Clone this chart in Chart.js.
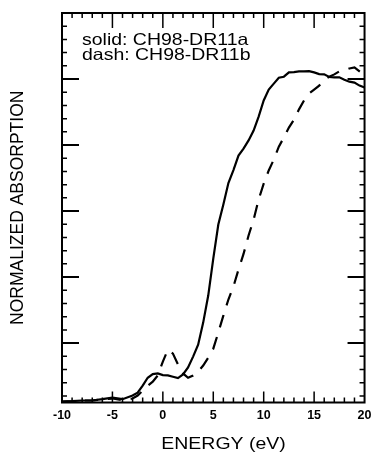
<!DOCTYPE html>
<html><head><meta charset="utf-8">
<style>html,body{margin:0;padding:0;background:#fff}#wrap{width:377px;height:452px;position:relative}</style>
<script src="https://cdn.jsdelivr.net/npm/chart.js@4/dist/chart.umd.min.js"></script>
</head><body>
<div id="wrap"><canvas id="c" width="377" height="452"></canvas></div>
<script>
// Energy grid (eV)
const energy = [-10,-9,-8,-7,-6,-5,-4,-3,-2.5,-2,-1.5,-1,-0.5,0,0.5,1,1.5,2,2.5,3,3.5,4,4.5,5,5.5,6,6.5,7,7.5,8,8.5,9,9.5,10,10.5,11,11.5,12,12.5,13,13.5,14,14.5,15,15.5,16,16.5,17,17.5,18,18.5,19,19.5,20];
// solid: CH98-DR11a
const solidCH98DR11a = [0.023,0.024,0.026,0.026,0.030,0.035,0.030,0.041,0.050,0.071,0.095,0.106,0.108,0.103,0.102,0.098,0.094,0.105,0.126,0.159,0.195,0.262,0.344,0.456,0.559,0.620,0.685,0.724,0.768,0.789,0.814,0.844,0.886,0.935,0.968,0.986,1.004,1.007,1.020,1.021,1.023,1.023,1.024,1.020,1.015,1.014,1.006,1.005,1.005,0.998,0.992,0.989,0.980,0.974];
// dash: CH98-DR11b
const dashCH98DR11b = [0.023,0.024,0.026,0.026,0.029,0.032,0.027,0.032,0.041,0.056,0.071,0.083,0.102,0.144,0.180,0.168,0.135,0.108,0.095,0.102,0.114,0.132,0.156,0.183,0.232,0.283,0.332,0.371,0.423,0.470,0.526,0.574,0.635,0.683,0.723,0.756,0.795,0.823,0.853,0.877,0.908,0.935,0.956,0.968,0.980,0.998,1.007,1.014,1.023,1.026,1.032,1.035,1.023,1.011];
// tick labels / ticks
const xTickLabels = [-10,-5,0,5,10,15,20];
const xMinorStep = 1;
const yMajorTicks = [0.2,0.4,0.6,0.8,1.0];
const yMinorStep = 0.04;
const legendLines = ['solid: CH98-DR11a','dash: CH98-DR11b'];
const xTitle = 'ENERGY (eV)';
const yTitle = 'NORMALIZED ABSORPTION';

const FONT = '"Liberation Sans", Arial, Helvetica, sans-serif';

const framePlugin = {
  id: 'frame',
  afterDraw(chart) {
    const ctx = chart.ctx, a = chart.chartArea;
    const xs = chart.scales.x, ys = chart.scales.y;
    ctx.save();
    ctx.strokeStyle = '#000';
    ctx.lineCap = 'butt';
    // ticks on x (top & bottom)
    ctx.lineWidth = 1.5;
    for (let v = xs.min + xMinorStep; v < xs.max - 1e-9; v += xMinorStep) {
      const px = xs.getPixelForValue(v);
      const major = xTickLabels.some(t => Math.abs(t - v) < 1e-9);
      ctx.beginPath();
      ctx.moveTo(px, a.bottom); ctx.lineTo(px, a.bottom - (major ? 11 : 5));
      ctx.moveTo(px, a.top); ctx.lineTo(px, a.top + (major ? 15 : 5));
      ctx.stroke();
    }
    // ticks on y (left & right)
    for (let v = yMinorStep; v < ys.max - 1e-9; v += yMinorStep) {
      if (v < ys.min) continue;
      const py = ys.getPixelForValue(v);
      const major = yMajorTicks.some(t => Math.abs(t - v) < 1e-6);
      ctx.lineWidth = major ? 2 : 1.5;
      ctx.beginPath();
      ctx.moveTo(a.left, py); ctx.lineTo(a.left + (major ? 17 : 5), py);
      ctx.moveTo(a.right, py); ctx.lineTo(a.right - (major ? 17 : 5), py);
      ctx.stroke();
    }
    // frame
    ctx.lineWidth = 2;
    ctx.strokeRect(a.left, a.top, a.right - a.left, a.bottom - a.top);
    // legend text
    ctx.fillStyle = '#000';
    ctx.font = '16.5px ' + FONT;
    ctx.textAlign = 'left';
    ctx.textBaseline = 'alphabetic';
    legendLines.forEach((t, i) => {
      ctx.save();
      ctx.translate(82, 45 + i * 15);
      ctx.scale(1.18, 1);
      ctx.fillText(t, 0, 0);
      ctx.restore();
    });
    // x title
    ctx.textAlign = 'center';
    ctx.save();
    ctx.translate(223.5, 449);
    ctx.scale(1.18, 1);
    ctx.fillText(xTitle, 0, 0);
    ctx.restore();
    ctx.restore();
  }
};

new Chart(document.getElementById('c'), {
  type: 'line',
  data: {
    datasets: [
      { label: legendLines[0], data: energy.map((e, i) => ({x: e, y: solidCH98DR11a[i]})),
        borderColor: '#000', borderWidth: 2.2, pointRadius: 0, tension: 0, fill: false },
      { label: legendLines[1], data: energy.map((e, i) => ({x: e, y: dashCH98DR11b[i]})),
        borderColor: '#000', borderWidth: 2.2, borderDash: [13, 10], pointRadius: 0, tension: 0, fill: false }
    ]
  },
  options: {
    responsive: false, animation: false, devicePixelRatio: 1,
    layout: { padding: { top: 13, right: 6, left: 0, bottom: 0 } },
    plugins: { legend: { display: false }, tooltip: { enabled: false } },
    scales: {
      x: {
        type: 'linear', min: -10, max: 20,
        afterBuildTicks: (axis) => { axis.ticks = xTickLabels.map(v => ({value: v})); },
        afterFit: (s) => { s.height = 49.5; },
        ticks: { color: '#000', font: { family: FONT, size: 12.5, weight: 'bold' }, padding: 5.5,
                 maxRotation: 0, autoSkip: false },
        grid: { display: false, drawTicks: false },
        border: { display: false }
      },
      y: {
        type: 'linear', min: 0.02, max: 1.2,
        afterFit: (s) => { s.width = 62; },
        ticks: { display: false },
        grid: { display: false, drawTicks: false },
        border: { display: false },
        title: { display: true, text: yTitle, color: '#000',
                 font: { family: FONT, size: 17.5 }, padding: { top: 8, bottom: 0 } }
      }
    }
  },
  plugins: [framePlugin]
});
</script>
</body></html>
